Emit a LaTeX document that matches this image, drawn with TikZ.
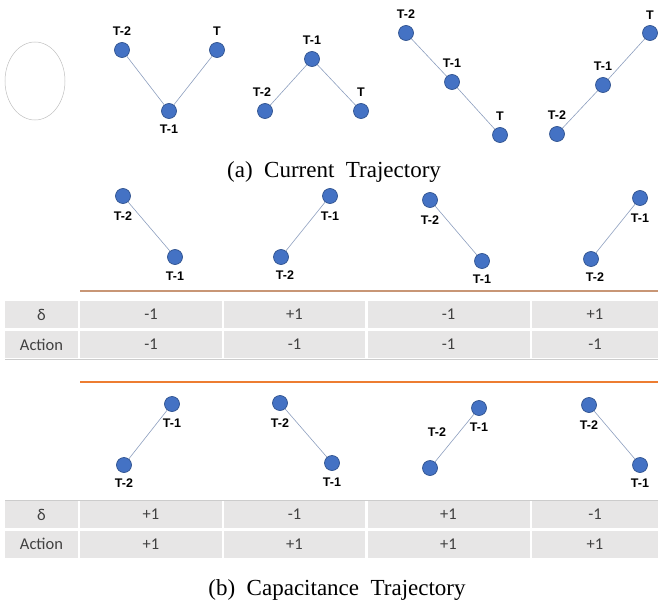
\documentclass[tikz,border=0pt]{standalone}
\usepackage{fontspec}
\setmainfont{Liberation Serif}
\newfontfamily\tagfont{Liberation Sans}
\newfontfamily\cellfont{Carlito}
\usetikzlibrary{positioning,shapes.geometric}
\definecolor{dotblue}{RGB}{68,114,196}
\definecolor{dotedge}{RGB}{47,82,143}
\definecolor{linkgray}{RGB}{140,158,190}
\definecolor{cellgray}{RGB}{231,230,230}
\definecolor{rulecol}{RGB}{237,125,49}
\definecolor{rulemix}{RGB}{200,150,118}
\definecolor{celltext}{RGB}{64,64,64}

\begin{document}
\begin{tikzpicture}[
  x=1pt, y=-1pt,
  dot/.style={circle, fill=dotblue, draw=dotedge, line width=0.7pt,
    minimum size=15pt, inner sep=0pt},
  tag/.style={font=\tagfont\bfseries\fontsize{12.5}{12.5}\selectfont, inner sep=0pt},
  link/.style={draw=linkgray, line width=0.6pt},
  cell/.style={fill=cellgray, text=celltext, inner sep=0pt, minimum height=27pt,
    font=\cellfont\fontsize{16.5}{16.5}\selectfont},
  sep/.style={draw=rulecol, line width=1.6pt},
  edge rule/.style={draw=black!20, line width=1pt},
  caption/.style={font=\fontsize{23}{23}\selectfont, inner sep=0pt},
]
\useasboundingbox (0,0) rectangle (658,607);

% ---- empty placeholder ----
\node[ellipse, draw=black!25, line width=0.5pt, minimum width=60pt,
  minimum height=78pt, inner sep=0pt] (blank) at (35,81) {};

% ---- (a) current trajectory ----
\node[dot] (a1m2) at (122,50) {};
\node[dot] (a1m1) at (169,111) {};
\node[dot] (a1t)  at (217,50) {};
\node[tag, above=6pt of a1m2] (a1m2l) {T-2};
\node[tag, below=6pt of a1m1] (a1m1l) {T-1};
\node[tag, above=6pt of a1t]  (a1tl)  {T};
\draw[link] (a1m2) -- (a1m1) -- (a1t);

\node[dot] (a2m2) at (265,111) {};
\node[dot] (a2m1) at (312,59) {};
\node[dot] (a2t)  at (361,111) {};
\node[tag, above=6pt of a2m2, xshift=-3pt] (a2m2l) {T-2};
\node[tag, above=6pt of a2m1] (a2m1l) {T-1};
\node[tag, above=6pt of a2t]  (a2tl)  {T};
\draw[link] (a2m2) -- (a2m1) -- (a2t);

\node[dot] (a3m2) at (406,33) {};
\node[dot] (a3m1) at (452,82) {};
\node[dot] (a3t)  at (500,135) {};
\node[tag, above=6pt of a3m2] (a3m2l) {T-2};
\node[tag, above=6pt of a3m1] (a3m1l) {T-1};
\node[tag, above=6pt of a3t]  (a3tl)  {T};
\draw[link] (a3m2) -- (a3m1) -- (a3t);

\node[dot] (a4m2) at (557,134) {};
\node[dot] (a4m1) at (603,85) {};
\node[dot] (a4t)  at (650,33) {};
\node[tag, above=6pt of a4m2] (a4m2l) {T-2};
\node[tag, above=6pt of a4m1] (a4m1l) {T-1};
\node[tag, above=5pt of a4t]  (a4tl)  {T};
\draw[link] (a4m2) -- (a4m1) -- (a4t);

\node[caption] (capa) at (334,172) {(a)~~Current~~Trajectory};

% ---- (b) upper pairs ----
\node[dot] (b1m2) at (123,196) {};
\node[dot] (b1m1) at (175,257) {};
\node[tag, below=8pt of b1m2] (b1m2l) {T-2};
\node[tag, below=7pt of b1m1] (b1m1l) {T-1};
\draw[link] (b1m2) -- (b1m1);

\node[dot] (b2m2) at (281,257) {};
\node[dot] (b2m1) at (330,196) {};
\node[tag, below=6pt of b2m2, xshift=4pt] (b2m2l) {T-2};
\node[tag, below=8pt of b2m1] (b2m1l) {T-1};
\draw[link] (b2m2) -- (b2m1);

\node[dot] (b3m2) at (430,200) {};
\node[dot] (b3m1) at (482,261) {};
\node[tag, below=8pt of b3m2] (b3m2l) {T-2};
\node[tag, below=6pt of b3m1] (b3m1l) {T-1};
\draw[link] (b3m2) -- (b3m1);

\node[dot] (b4m2) at (591,259) {};
\node[dot] (b4m1) at (640,198) {};
\node[tag, below=6pt of b4m2, xshift=4pt] (b4m2l) {T-2};
\node[tag, below=8pt of b4m1] (b4m1l) {T-1};
\draw[link] (b4m2) -- (b4m1);

\draw[sep, draw=rulemix, line width=1.7pt] (80,291) -- (658,291);

% ---- upper table ----
\node[cell, minimum width=73pt] (uphd) at (41.5,314.5) {δ};
\node[cell, minimum width=73pt] (upha) at (41.5,344.5) {Action};
\foreach \nm/\cx/\cw/\dtxt/\atxt in {1/151/142/-1/-1, 2/294.5/141/+1/-1,
    3/448.5/162/-1/-1, 4/595/126/+1/-1} {
  \node[cell, minimum width=\cw] (upd\nm) at (\cx,314.5) {\dtxt};
  \node[cell, minimum width=\cw] (upa\nm) at (\cx,344.5) {\atxt};
}
\draw[edge rule] (5,359) -- (658,359);

\draw[sep, line width=2pt] (80,382) -- (658,382);

% ---- (b) lower pairs ----
\node[dot] (c1m1) at (172,404) {};
\node[dot] (c1m2) at (124,465) {};
\node[tag, below=7pt of c1m1] (c1m1l) {T-1};
\node[tag, below=6pt of c1m2] (c1m2l) {T-2};
\draw[link] (c1m2) -- (c1m1);

\node[dot] (c2m2) at (280,403) {};
\node[dot] (c2m1) at (332,463) {};
\node[tag, below=8pt of c2m2] (c2m2l) {T-2};
\node[tag, below=7pt of c2m1] (c2m1l) {T-1};
\draw[link] (c2m2) -- (c2m1);

\node[dot] (c3m2) at (430,468) {};
\node[dot] (c3m1) at (479,408) {};
\node[tag, above=23pt of c3m2, xshift=7pt] (c3m2l) {T-2};
\node[tag, below=7pt of c3m1] (c3m1l) {T-1};
\draw[link] (c3m2) -- (c3m1);

\node[dot] (c4m2) at (589,405) {};
\node[dot] (c4m1) at (640,465) {};
\node[tag, below=8pt of c4m2] (c4m2l) {T-2};
\node[tag, below=6pt of c4m1] (c4m1l) {T-1};
\draw[link] (c4m2) -- (c4m1);

% ---- lower table ----
\draw[edge rule] (5,500) -- (658,500);
\node[cell, minimum width=73pt] (lohd) at (41.5,514.5) {δ};
\node[cell, minimum width=73pt] (loha) at (41.5,544) {Action};
\foreach \nm/\cx/\cw/\dtxt/\atxt in {1/151/142/+1/+1, 2/294.5/141/-1/+1,
    3/448.5/162/+1/+1, 4/595/126/-1/+1} {
  \node[cell, minimum width=\cw] (lod\nm) at (\cx,514.5) {\dtxt};
  \node[cell, minimum width=\cw] (loa\nm) at (\cx,544) {\atxt};
}

\node[caption] (capb) at (337,590) {(b)~~Capacitance~~Trajectory};

\end{tikzpicture}
\end{document}
